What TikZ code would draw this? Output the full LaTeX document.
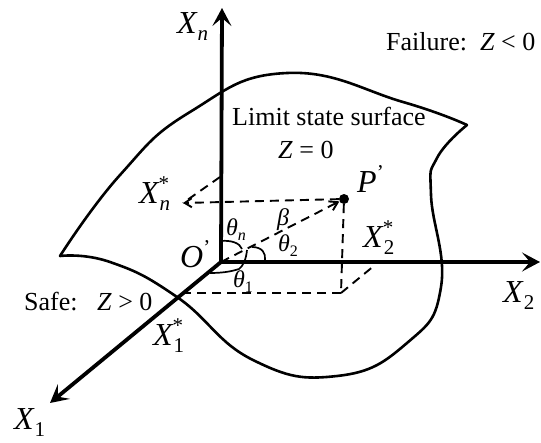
\documentclass[tikz,border=0pt]{standalone}
\usepackage{fontspec}
\setmainfont{Liberation Serif}
\usetikzlibrary{arrows.meta,positioning,calc}
\tikzset{
  axisline/.style={-{Stealth[length=18pt,width=19pt,inset=8pt]},line width=3.8pt,black},
  surfline/.style={line width=2.6pt,black,line cap=round,line join=round},
  dashline/.style={line width=1.9pt,black,dash pattern=on 9pt off 6pt},
  anglearc/.style={line width=1.7pt,black},
  lbl/.style={font=\fontsize{26}{28}\selectfont,inner sep=0pt,anchor=base west,text=black},
  sym/.style={font=\fontsize{32}{34}\selectfont\itshape,inner sep=0pt,anchor=base west,text=black},
  gsym/.style={font=\fontsize{24}{26}\selectfont\itshape,inner sep=0pt,anchor=base west,text=black}
}
\newcommand{\subs}[1]{\fontsize{21}{22}\selectfont #1}
\newcommand{\varx}[2]{X\rlap{\raisebox{-7pt}{\kern1pt\subs{#1}}}\raisebox{13pt}{\subs{#2}}}
\newcommand{\gsub}[1]{\raisebox{-5pt}{\fontsize{16}{17}\selectfont #1}}
\begin{document}
\begin{tikzpicture}[x=1pt,y=-1pt]
    \useasboundingbox (0,0) rectangle (541,442);
    % reference points
    \coordinate (origin) at (221,262);
    \coordinate (xntop) at (222,8);
    \coordinate (xtwoend) at (540,262);
    \coordinate (xoneend) at (50,403);
    \coordinate (xnstar) at (183,203);
    \coordinate (xnfoot) at (220,177);
    \coordinate (xonefoot) at (184,293);
    \coordinate (corner) at (341,293);
    \coordinate (xtwofoot) at (375,265);
    % limit state surface
    \draw[surfline] plot[smooth,tension=.8] coordinates {(60,256) (120,175) (190,112) (287,73) (403,102) (467,125)};
    \draw[surfline] plot[smooth,tension=.8] coordinates {(467,125) (437,158) (431,195) (441,287) (407,343) (337,376) (253,360) (177,297) (110,262) (60,256)};
    % dashed projections
    \node[circle,fill=black,inner sep=0pt,minimum size=10pt] (pointp) at (344,199) {};
    \draw[dashline] (xnfoot) -- (xnstar);
    \draw[dashline,-{Straight Barb[length=7pt,width=9pt]}] (pointp) -- (xnstar);
    \draw[dashline,-{Straight Barb[length=8pt,width=10pt]}] (origin) -- (pointp);
    \draw[dashline] (pointp) -- (corner);
    \draw[dashline] (corner) -- (xonefoot);
    \draw[dashline] (corner) -- (xtwofoot);
    % axes
    \draw[axisline] (origin) -- (xntop);
    \draw[axisline] (origin) -- (xtwoend);
    \draw[axisline] (origin) -- (xoneend);
    % angles
    \draw[anglearc] (221,241) .. controls (231,240) and (240,243) .. (242,249);
    \draw[anglearc] (252,247) .. controls (262,247) and (266,253) .. (265,260);
    \draw[anglearc] (247,250) .. controls (246,260) and (243,266) .. (239,269) .. controls (230,272) and (220,273) .. (210,273);
    % labels
    \node[sym] (labxn) at (177,33) {\varx{\itshape n}{}};
    \node[sym] (labxnstar) at (139,203) {\varx{\itshape n}{\upshape *}};
    \node[sym] (labxtwo) at (503,302) {\varx{\upshape 2}{}};
    \node[sym] (labxtwostar) at (363,247) {\varx{\upshape 2}{\upshape *}};
    \node[sym] (labxone) at (14,429) {\varx{\upshape 1}{}};
    \node[sym] (labxonestar) at (153,345) {\varx{\upshape 1}{\upshape *}};
    \node[sym] (labo) at (180,267) {O\raisebox{13pt}{\subs{\upshape '}}};
    \node[sym] (labp) at (357,192) {P\raisebox{13pt}{\subs{\upshape '}}};
    \node[gsym] (labbeta) at (277,225) {β};
    \node[gsym] (labttwo) at (278,251) {θ\gsub{\upshape 2}};
    \node[gsym] (labtn) at (226,235) {θ\gsub{\itshape n}};
    \node[gsym] (labtone) at (233,287) {θ\gsub{\upshape 1}};
    \node[lbl] (labfail) at (386,50) {Failure:\ \ \textit{Z} < 0};
    \node[lbl] (labsurf) at (232,125) {Limit state surface};
    \node[lbl] (labzero) at (278,158) {\textit{Z} = 0};
    \node[lbl] (labsafe) at (24,310) {Safe:\ \ \ \textit{Z} > 0};
  \end{tikzpicture}
\end{document}
